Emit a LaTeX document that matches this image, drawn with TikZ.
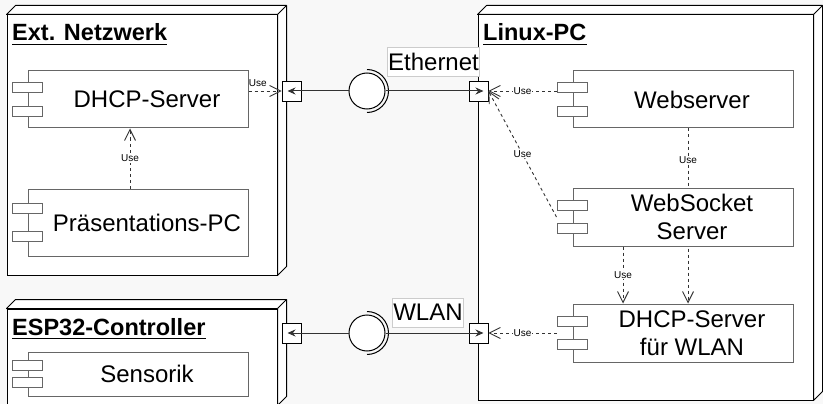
\documentclass[tikz,border=0pt]{standalone}
\usepackage{fontspec}
\setmainfont{Liberation Sans}
\usetikzlibrary{arrows.meta,calc}
\definecolor{canvas}{HTML}{F8F8F8}
\definecolor{compline}{HTML}{666666}
\definecolor{tagline}{HTML}{CCCCCC}
\definecolor{edgeline}{HTML}{333333}

% top and right faces of a 3D device box
\newcommand\devicedepth[1]{%
  \filldraw[deviceface] (#1.north west) -- ++(9,-9) -- ($(#1.north east)+(9,-9)$)
    -- ($(#1.south east)+(9,-9)$) -- (#1.south east) -- (#1.north east) -- cycle;
  \draw[deviceface] (#1.north east) -- ++(9,-9);}
% the two small tabs on the left edge of a component
\newcommand\comptabs[2]{%
  \filldraw[comptab] ($(#1.west)+(-15,-#2-5)$) rectangle ++(30,10);
  \filldraw[comptab] ($(#1.west)+(-15,#2-5)$) rectangle ++(30,10);}

\begin{document}
\begin{tikzpicture}[x=1pt, y=-1pt,
  device/.style={draw=black, fill=white, line width=1pt, inner sep=0pt},
  deviceface/.style={draw=black, fill=white, line width=1pt, line join=round},
  devtitle/.style={font=\bfseries\fontsize{23.5}{28}\selectfont, inner sep=0pt, anchor=base west},
  titlerule/.style={line width=1.6pt},
  component/.style={draw=compline, fill=white, line width=1pt, minimum width=220pt, inner sep=0pt},
  comptext/.style={font=\fontsize{24}{28}\selectfont, align=center, xshift=9pt},
  comptab/.style={draw=compline, fill=white, line width=1pt},
  port/.style={draw=black, fill=white, line width=0.8pt, minimum width=19pt, minimum height=20pt, inner sep=0pt},
  socket/.style={circle, draw=black, fill=white, line width=1pt, minimum size=36pt, inner sep=0pt},
  ifaceline/.style={draw=edgeline, line width=1pt, -{Stealth[length=8pt, width=7pt]}},
  uses/.style={draw=edgeline, line width=0.9pt, dash pattern=on 3pt off 3pt, -{Straight Barb[length=11pt, width=11pt]}},
  uselabel/.style={font=\fontsize{10}{12}\selectfont, fill=white, inner sep=1pt, text=black},
  tag/.style={draw=tagline, fill=white, line width=0.8pt, font=\fontsize{24}{28}\selectfont, inner xsep=1pt, minimum height=29pt}
]
\fill[canvas] (0,0) rectangle (823,404);
\useasboundingbox (0,0) rectangle (823,404);

% devices
\node[device, minimum width=270pt, minimum height=260pt] (ext) at (142,145) {};
\devicedepth{ext}
\node[device, minimum width=335pt, minimum height=385pt] (linux) at (645.5,207.5) {};
\devicedepth{linux}
\node[device, minimum width=270pt, minimum height=96pt] (esp) at (142,357) {};
\devicedepth{esp}

\node[devtitle] (extT) at (12,41) {Ext. Netzwerk};
\draw[titlerule] ($(extT.base west)+(0,3.5)$) -- ($(extT.base east)+(0,3.5)$);
\node[devtitle] (linuxT) at (483,41) {Linux-PC};
\draw[titlerule] ($(linuxT.base west)+(0,3.5)$) -- ($(linuxT.base east)+(0,3.5)$);
\node[devtitle] (espT) at (12,335) {ESP32-Controller};
\draw[titlerule] ($(espT.base west)+(0,3.5)$) -- ($(espT.base east)+(0,3.5)$);

% components
\node[component, minimum height=57pt, label={[comptext]center:DHCP-Server}] (dhcp) at (138,99.5) {};
\comptabs{dhcp}{11.75}
\node[component, minimum height=67pt, label={[comptext]center:Präsentations-PC}] (praes) at (138,222.5) {};
\comptabs{praes}{13.75}
\node[component, minimum height=44pt, label={[comptext]center:Sensorik}] (sens) at (138,374) {};
\comptabs{sens}{8.5}
\node[component, minimum height=57pt, label={[comptext]center:Webserver}] (web) at (683,99.5) {};
\comptabs{web}{11.75}
\node[component, minimum height=58pt, label={[comptext]center:DHCP-Server\\für WLAN}] (dhcpw) at (683,333) {};
\comptabs{dhcpw}{11.75}

% runs behind the WebSocket component
\draw[uses] ($(web.south)+(5,0)$) -- node[uselabel, pos=0.18] {Use} ($(dhcpw.north)+(5,0)$);

\node[component, minimum height=58pt, label={[comptext]center:WebSocket\\Server}] (ws) at (683,217) {};
\comptabs{ws}{11.75}

% ports and interfaces
\node[port] (extport) at (291.5,91) {};
\node[port] (ethport) at (478.5,91) {};
\node[port] (espport) at (291.5,333) {};
\node[port] (wlanport) at (478.5,333) {};

\node[socket] (ethsock) at (367,91) {};
\draw[line width=1pt] ($(ethsock.center)+(0,-21.5)$) arc[start angle=-90, end angle=90, radius=21.5];
\node[socket] (wlansock) at (367,333) {};
\draw[line width=1pt] ($(wlansock.center)+(0,-21.5)$) arc[start angle=-90, end angle=90, radius=21.5];

\draw[ifaceline] (ethsock.west) -- ($(extport.center)+(-4,0)$);
\draw[ifaceline] (ethsock.east) -- ($(ethport.center)+(5,0)$);
\draw[ifaceline] (wlansock.west) -- ($(espport.center)+(-4,0)$);
\draw[ifaceline] (wlansock.east) -- ($(wlanport.center)+(5,0)$);

\node[tag] (ethtag) at (433.5,61.5) {Ethernet};
\node[tag] (wlantag) at (428,312.5) {WLAN};

% dependencies
\draw[uses] ($(praes.north)+(-8,0)$) -- node[uselabel] {Use} ($(dhcp.south)+(-8,0)$);
\draw[uses] (dhcp.east |- extport.west) -- node[uselabel, fill=none, pos=0, anchor=south west, inner sep=0pt, yshift=4pt] {Use} (extport.west);
\draw[uses] ($(web.west |- ethport.east)+(-16,0)$) -- node[uselabel] {Use} (ethport.east);
\draw[uses] ($(ws.west)+(-16,0)$) -- node[uselabel] {Use} (ethport.east);
\draw[uses] ($(ws.south)+(-60,0)$) -- node[uselabel] {Use} ($(dhcpw.north)+(-60,0)$);
\draw[uses] ($(dhcpw.west)+(-16,0)$) -- node[uselabel] {Use} (wlanport.east);
\end{tikzpicture}
\end{document}
